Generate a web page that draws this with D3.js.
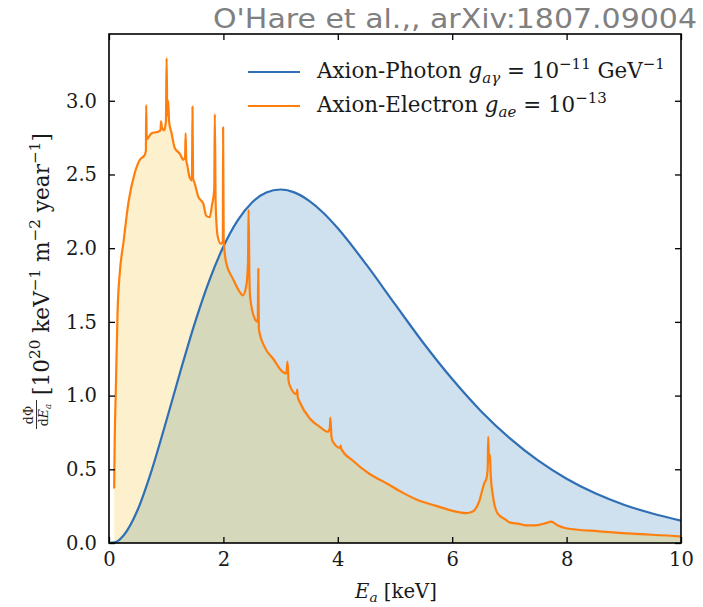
<!DOCTYPE html>
<html><head><meta charset="utf-8">
<script src="https://cdn.jsdelivr.net/npm/d3@7/dist/d3.min.js"></script>
<style>body{margin:0;background:#fff}svg{display:block}</style>
</head><body>
<svg id="c" width="703" height="607"></svg>
<script>
// ---- data ----
const photonE = [0,0.1,0.25,0.5,0.75,1.0,1.25,1.5,1.75,2.0,2.25,2.5,2.75,3.0,3.25,3.5,3.75,4.0,4.5,5.0,5.5,6.0,6.5,7.0,7.5,8.0,8.5,9.0,9.5,10.0];
const photonFlux = [0,0.004,0.049,0.224,0.498,0.826,1.167,1.492,1.777,2.011,2.189,2.310,2.378,2.398,2.377,2.321,2.239,2.135,1.888,1.620,1.355,1.112,0.896,0.713,0.560,0.436,0.337,0.260,0.200,0.152];
const electronE = [0.09,0.10,0.12,0.15,0.19,0.25,0.34,0.45,0.54,0.62,0.645,0.65,0.66,0.745,0.86,0.90,0.91,0.925,0.965,0.995,1.007,1.02,1.035,1.05,1.094,1.15,1.24,1.30,1.33,1.34,1.35,1.37,1.41,1.45,1.46,1.47,1.49,1.56,1.65,1.70,1.76,1.80,1.84,1.85,1.865,1.90,1.955,1.99,1.995,2.005,2.05,2.17,2.29,2.34,2.40,2.43,2.44,2.455,2.47,2.55,2.60,2.61,2.62,2.72,2.87,3.04,3.10,3.12,3.14,3.16,3.28,3.29,3.30,3.33,3.51,3.68,3.83,3.86,3.87,3.89,3.91,4.04,4.05,4.06,4.26,4.55,4.85,5.14,5.43,5.72,6.01,6.24,6.36,6.47,6.56,6.60,6.62,6.63,6.645,6.66,6.675,6.71,6.79,6.94,7.0,7.17,7.29,7.46,7.64,7.73,7.84,7.99,8.57,9.15,9.97,10.0];
const electronFlux = [0.37,0.70,1.05,1.57,1.84,2.03,2.31,2.51,2.60,2.63,2.66,2.97,2.74,2.78,2.79,2.80,2.86,2.82,2.80,2.86,3.29,2.90,3.00,2.86,2.78,2.68,2.64,2.60,2.62,2.78,2.60,2.56,2.48,2.46,2.96,2.47,2.45,2.35,2.30,2.22,2.21,2.29,2.40,2.91,2.30,2.08,2.03,2.05,2.82,2.05,1.90,1.79,1.70,1.68,1.745,1.90,2.26,1.80,1.66,1.52,1.50,1.86,1.45,1.33,1.25,1.16,1.15,1.23,1.10,1.07,1.01,1.04,0.99,0.96,0.845,0.79,0.755,0.78,0.85,0.72,0.69,0.645,0.66,0.64,0.56,0.47,0.405,0.34,0.286,0.252,0.218,0.203,0.214,0.28,0.405,0.44,0.50,0.72,0.55,0.60,0.45,0.326,0.203,0.157,0.14,0.13,0.12,0.12,0.135,0.145,0.12,0.10,0.079,0.063,0.045,0.044];
const xTicks = [0,2,4,6,8,10];
const yTicks = [0.0,0.5,1.0,1.5,2.0,2.5,3.0];

// ---- layout ----
const L=109, R=681, T=34, B=543;
const svg = d3.select("#c");
const x = d3.scaleLinear().domain([0,10]).range([L,R]);
const y = d3.scaleLinear().domain([0,3.453]).range([B,T]);
const serif = "'DejaVu Serif','Liberation Serif',serif";
const ink = "#1a1a1a";

const photon = photonE.map((e,i)=>[e,photonFlux[i]]);
const electron = electronE.map((e,i)=>[e,electronFlux[i]]);

const areaP = d3.area().x(d=>x(d[0])).y0(y(0)).y1(d=>y(d[1])).curve(d3.curveMonotoneX);
const lineP = d3.line().x(d=>x(d[0])).y(d=>y(d[1])).curve(d3.curveMonotoneX);
const areaE = d3.area().x(d=>x(d[0])).y0(y(0)).y1(d=>y(d[1])).curve(d3.curveMonotoneX);
const lineE = d3.line().x(d=>x(d[0])).y(d=>y(d[1])).curve(d3.curveMonotoneX);

const defs = svg.append("defs");
defs.append("clipPath").attr("id","plotclip").append("rect").attr("x",L).attr("y",T).attr("width",R-L).attr("height",B-T);
defs.append("clipPath").attr("id","pclip").append("path").attr("d",areaP(photon));

const g = svg.append("g").attr("clip-path","url(#plotclip)");
g.append("path").attr("d",areaP(photon)).attr("fill","#cfe0ef");
g.append("path").attr("d",areaE(electron)).attr("fill","#fdf0cc");
g.append("path").attr("d",areaE(electron)).attr("fill","#d5d8bb").attr("clip-path","url(#pclip)");
g.append("path").attr("d",lineP(photon)).attr("fill","none").attr("stroke","#2f6fb5").attr("stroke-width",2.2);
g.append("path").attr("d",lineE(electron)).attr("fill","none").attr("stroke","#ff7f0e").attr("stroke-width",2.2).attr("stroke-linejoin","round");

// axes (inward ticks on all sides)
const tl = 6;
const ax = [
  svg.append("g").attr("transform",`translate(0,${B})`).call(d3.axisBottom(x).tickValues(xTicks).tickSizeInner(-tl).tickSizeOuter(0).tickPadding(9).tickFormat(d3.format("d"))),
  svg.append("g").attr("transform",`translate(0,${T})`).call(d3.axisTop(x).tickValues(xTicks).tickSizeInner(-tl).tickSizeOuter(0).tickFormat("")),
  svg.append("g").attr("transform",`translate(${L},0)`).call(d3.axisLeft(y).tickValues(yTicks).tickSizeInner(-tl).tickSizeOuter(0).tickPadding(12).tickFormat(d3.format(".1f"))),
  svg.append("g").attr("transform",`translate(${R},0)`).call(d3.axisRight(y).tickValues(yTicks).tickSizeInner(-tl).tickSizeOuter(0).tickFormat(""))
];
ax.forEach(a=>{
  a.select(".domain").remove();
  a.selectAll(".tick line").attr("stroke","#000").attr("stroke-width",1.3);
  a.selectAll("text").attr("font-family",serif).attr("font-size",19.5).attr("fill",ink);
});
svg.append("rect").attr("x",L).attr("y",T).attr("width",R-L).attr("height",B-T).attr("fill","none").attr("stroke","#000").attr("stroke-width",1.6);

// rich text helper: builds parts at a font size; optionally rescales to a target width
function rich(parent, attrs, parts, fs, targetW){
  const t = parent.append("text");
  Object.entries(attrs).forEach(([k,v])=>t.attr(k,v));
  let used = fs;
  function build(f){
    t.selectAll("tspan").remove();
    t.attr("font-size",f);
    let shift = 0;
    parts.forEach(p=>{
      const s = t.append("tspan").text(p.t);
      if(p.i) s.attr("font-style","italic");
      let target = 0, size = f;
      if(p.sub){ target = f*0.22; size = f*0.7; }
      if(p.sup){ target = -f*0.4; size = f*0.7; }
      s.attr("font-size",size);
      if(target!==shift){ s.attr("dy",target-shift); shift = target; }
    });
  }
  build(fs);
  if(targetW){
    const w = t.node().getComputedTextLength();
    if(w>0){ used = fs*targetW/w; build(used); }
  }
  return used;
}

// title
const title = svg.append("text").attr("x",697).attr("y",28).attr("text-anchor","end")
  .attr("font-family","'DejaVu Sans','Liberation Sans',sans-serif").attr("font-size",24).attr("fill","#808080")
  .text("O'Hare et al.,, arXiv:1807.09004");
{
  const w = title.node().getComputedTextLength();
  if(w>0){
    const f = Math.min(26, 24*484/w);
    title.attr("font-size",f);
    const w2 = title.node().getComputedTextLength();
    if(Math.abs(w2-484)>4) title.attr("textLength",484).attr("lengthAdjust","spacingAndGlyphs");
  }
}

// legend
const legendLabels = [
  [{t:"Axion-Photon "},{t:"g",i:1},{t:"aγ",i:1,sub:1},{t:" = 10"},{t:"−11",sup:1},{t:" GeV"},{t:"−1",sup:1}],
  [{t:"Axion-Electron "},{t:"g",i:1},{t:"ae",i:1,sub:1},{t:" = 10"},{t:"−13",sup:1}]
];
const legendColors = ["#2f6fb5","#ff7f0e"];
const legendY = [72,106];
let lfs = 18;
legendLabels.forEach((parts,i)=>{
  svg.append("line").attr("x1",248).attr("x2",300).attr("y1",legendY[i]).attr("y2",legendY[i]).attr("stroke",legendColors[i]).attr("stroke-width",2.2);
  const used = rich(svg,{x:317,y:legendY[i]+6,"font-family":serif,fill:ink},parts,lfs,i===0?348:null);
  if(i===0) lfs = used;
});

// x label
rich(svg,{x:396,y:598,"text-anchor":"middle","font-family":serif,fill:ink},[{t:"E",i:1},{t:"a",i:1,sub:1},{t:" [keV]"}],19,82);

// y label
const yl = svg.append("g").attr("transform","translate(49,430) rotate(-90)");
yl.append("text").attr("x",15).attr("y",-16).attr("text-anchor","middle").attr("font-family",serif).attr("font-size",12.5).attr("fill",ink).text("dΦ");
rich(yl,{x:15,y:-1,"text-anchor":"middle","font-family":serif,fill:ink},[{t:"d"},{t:"E",i:1},{t:"a",i:1,sub:1}],12.5,null);
yl.append("line").attr("x1",1).attr("x2",30).attr("y1",-12.5).attr("y2",-12.5).attr("stroke",ink).attr("stroke-width",0.9);
rich(yl,{x:35,y:0,"font-family":serif,fill:ink},[{t:"[10"},{t:"20",sup:1},{t:" keV"},{t:"−1",sup:1},{t:" m"},{t:"−2",sup:1},{t:" year"},{t:"−1",sup:1},{t:"]"}],18,262);
</script>
</body></html>
